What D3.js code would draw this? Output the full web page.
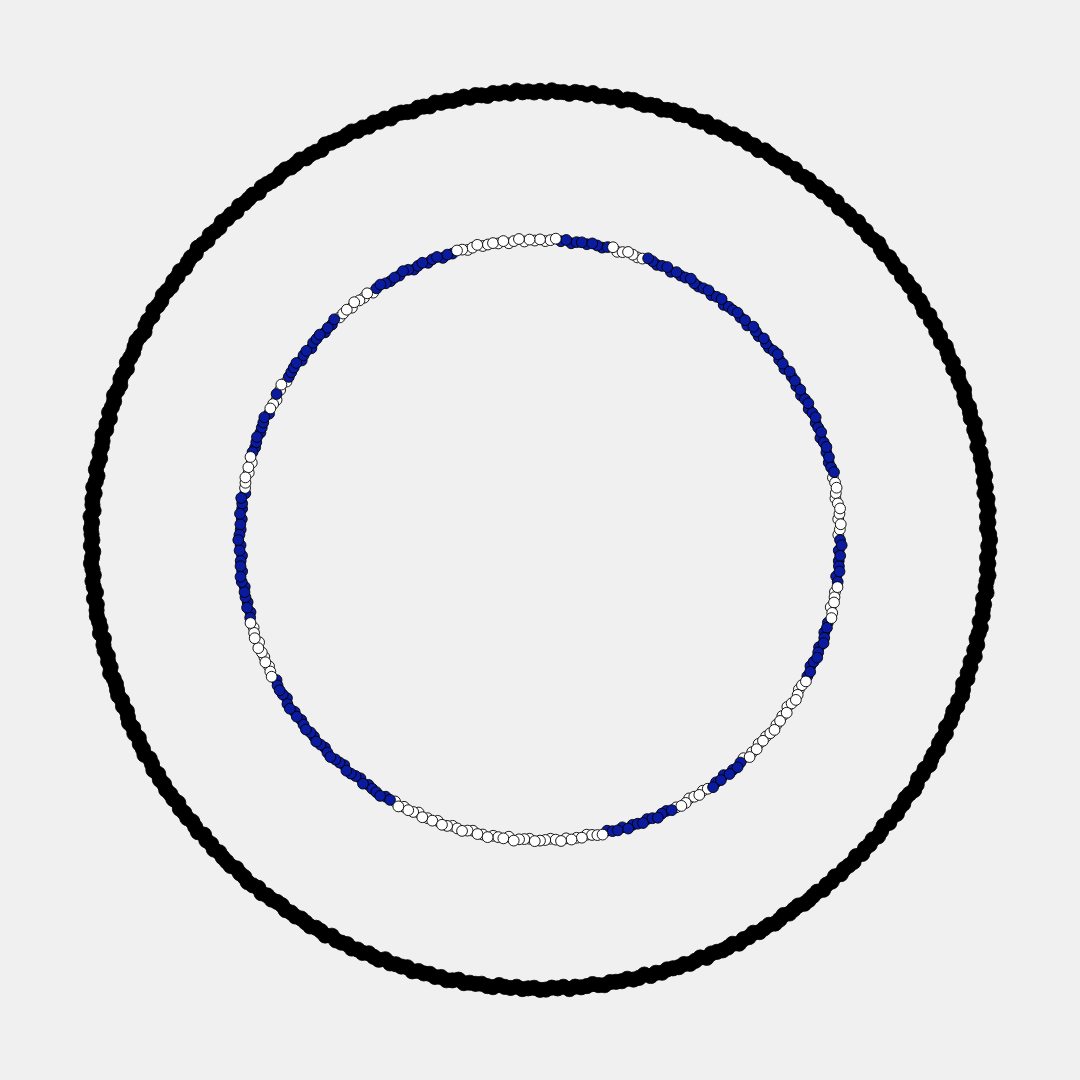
<!DOCTYPE html>
<html>
<head>
<meta charset="utf-8">
<script src="https://cdn.jsdelivr.net/npm/d3@7"></script>
<style>
html,body{margin:0;padding:0;background:#f0f0f0;}
svg{display:block;}
</style>
</head>
<body>
<svg id="chart" width="1080" height="1080"></svg>
<script>
// ---------------- DATA ----------------
// Outer ring: angle in degrees (clockwise from 12 o'clock), radius 1 + small radial noise
const outerRadiusValue = 1;
const outerAngles = [
0,0.75,1.5,2.25,3,3.75,4.5,5.25,6,6.75,7.5,8.25,
9,9.75,10.5,11.25,12,12.75,13.5,14.25,15,15.75,16.5,17.25,
18,18.75,19.5,20.25,21,21.75,22.5,23.25,24,24.75,25.5,26.25,
27,27.75,28.5,29.25,30,30.75,31.5,32.25,33,33.75,34.5,35.25,
36,36.75,37.5,38.25,39,39.75,40.5,41.25,42,42.75,43.5,44.25,
45,45.75,46.5,47.25,48,48.75,49.5,50.25,51,51.75,52.5,53.25,
54,54.75,55.5,56.25,57,57.75,58.5,59.25,60,60.75,61.5,62.25,
63,63.75,64.5,65.25,66,66.75,67.5,68.25,69,69.75,70.5,71.25,
72,72.75,73.5,74.25,75,75.75,76.5,77.25,78,78.75,79.5,80.25,
81,81.75,82.5,83.25,84,84.75,85.5,86.25,87,87.75,88.5,89.25,
90,90.75,91.5,92.25,93,93.75,94.5,95.25,96,96.75,97.5,98.25,
99,99.75,100.5,101.25,102,102.75,103.5,104.25,105,105.75,106.5,107.25,
108,108.75,109.5,110.25,111,111.75,112.5,113.25,114,114.75,115.5,116.25,
117,117.75,118.5,119.25,120,120.75,121.5,122.25,123,123.75,124.5,125.25,
126,126.75,127.5,128.25,129,129.75,130.5,131.25,132,132.75,133.5,134.25,
135,135.75,136.5,137.25,138,138.75,139.5,140.25,141,141.75,142.5,143.25,
144,144.75,145.5,146.25,147,147.75,148.5,149.25,150,150.75,151.5,152.25,
153,153.75,154.5,155.25,156,156.75,157.5,158.25,159,159.75,160.5,161.25,
162,162.75,163.5,164.25,165,165.75,166.5,167.25,168,168.75,169.5,170.25,
171,171.75,172.5,173.25,174,174.75,175.5,176.25,177,177.75,178.5,179.25,
180,180.75,181.5,182.25,183,183.75,184.5,185.25,186,186.75,187.5,188.25,
189,189.75,190.5,191.25,192,192.75,193.5,194.25,195,195.75,196.5,197.25,
198,198.75,199.5,200.25,201,201.75,202.5,203.25,204,204.75,205.5,206.25,
207,207.75,208.5,209.25,210,210.75,211.5,212.25,213,213.75,214.5,215.25,
216,216.75,217.5,218.25,219,219.75,220.5,221.25,222,222.75,223.5,224.25,
225,225.75,226.5,227.25,228,228.75,229.5,230.25,231,231.75,232.5,233.25,
234,234.75,235.5,236.25,237,237.75,238.5,239.25,240,240.75,241.5,242.25,
243,243.75,244.5,245.25,246,246.75,247.5,248.25,249,249.75,250.5,251.25,
252,252.75,253.5,254.25,255,255.75,256.5,257.25,258,258.75,259.5,260.25,
261,261.75,262.5,263.25,264,264.75,265.5,266.25,267,267.75,268.5,269.25,
270,270.75,271.5,272.25,273,273.75,274.5,275.25,276,276.75,277.5,278.25,
279,279.75,280.5,281.25,282,282.75,283.5,284.25,285,285.75,286.5,287.25,
288,288.75,289.5,290.25,291,291.75,292.5,293.25,294,294.75,295.5,296.25,
297,297.75,298.5,299.25,300,300.75,301.5,302.25,303,303.75,304.5,305.25,
306,306.75,307.5,308.25,309,309.75,310.5,311.25,312,312.75,313.5,314.25,
315,315.75,316.5,317.25,318,318.75,319.5,320.25,321,321.75,322.5,323.25,
324,324.75,325.5,326.25,327,327.75,328.5,329.25,330,330.75,331.5,332.25,
333,333.75,334.5,335.25,336,336.75,337.5,338.25,339,339.75,340.5,341.25,
342,342.75,343.5,344.25,345,345.75,346.5,347.25,348,348.75,349.5,350.25,
351,351.75,352.5,353.25,354,354.75,355.5,356.25,357,357.75,358.5,359.25
];
// radial noise, in 1/2000 of the outer radius
const outerJitter = [
3,-5,6,-1,0,-6,4,2,-3,7,-4,1,
-2,5,-7,3,6,-1,-5,2,4,-6,0,5,
-3,1,7,-4,-2,6,-6,3,0,-5,4,-1,
5,-3,2,-7,6,1,-4,0,3,-2,7,-5,
1,4,-6,2,-1,5,-3,6,-7,0,2,-4,
6,-2,3,-5,0,7,-1,-6,4,1,-3,5,
-4,2,-1,6,-5,3,0,-7,5,-2,4,-3,
2,-6,5,1,-3,4,-5,7,-1,0,6,-2,
-5,3,0,-4,7,-2,1,5,-6,3,-1,4,
0,6,-3,2,-7,4,-1,5,-4,1,-6,3,
7,-1,4,-5,2,-3,6,0,-2,5,-7,1,
-1,3,-6,4,0,-4,5,-2,7,-5,2,-3,
4,-7,1,6,-2,3,-5,0,2,-6,5,-1,
-3,5,-2,0,6,-4,1,-6,3,7,-1,-5,
2,-1,6,-3,4,-7,0,5,-4,2,-2,6,
-6,4,1,-2,5,-5,3,-1,7,-3,0,4,
5,-4,-1,3,-6,2,6,-3,0,4,-7,1,
-2,7,-5,1,3,-1,-4,6,-6,0,5,-3,
3,0,-3,5,-2,6,-7,2,4,-5,1,-1,
-4,6,2,-6,0,3,-2,7,-5,1,-3,5,
6,-3,0,4,-5,2,-1,-7,5,3,-4,0,
-1,5,-6,2,7,-2,4,-4,1,-3,6,-5,
0,-2,3,-7,5,1,-5,4,-1,6,-3,2,
4,-6,7,-1,-3,5,0,-4,2,-2,3,-6,
-5,1,-2,6,-4,3,7,-1,0,-6,4,2,
1,-4,5,-3,2,-7,6,0,-5,3,-1,4,
-6,2,0,5,-1,4,-3,6,-2,-5,7,1,
3,-5,4,-2,6,0,-6,2,-4,5,1,-3,
-1,7,-3,1,-5,3,2,-6,6,-2,0,5,
2,-3,6,-6,1,4,-4,0,5,-1,-7,3,
-4,0,3,-1,7,-5,2,4,-3,6,-2,-6,
5,1,-5,3,-2,0,6,-4,1,-7,4,-1,
-3,6,-1,-5,4,2,-6,5,0,-2,3,7,
1,-7,2,4,-4,6,-1,-3,5,0,-5,2,
-2,4,-6,0,3,-3,7,1,-5,5,-1,-4,
6,-1,2,-6,5,-2,0,3,-7,4,1,-3,
-5,3,5,-2,0,6,-4,1,-1,-6,7,2,
0,-4,1,6,-3,2,-5,4,-2,3,-6,5,
4,-2,-7,3,1,-5,6,-1,2,-4,0,6,
-3,5,0,-6,4,-1,3,-5,7,-2,1,-4
];

// Inner ring: angle in degrees, class (0 = white, 1 = blue), radius 0.669 + radial noise
const innerRadiusValue = 0.669;
const classNames = ["0", "1"];
const innerAngles = [
0,1,2,3,4,5,6,7,8,9,10,11,12,13,14,15,16,17,18,19,
20,21,22,23,24,25,26,27,28,29,30,31,32,33,34,35,36,37,38,39,
40,41,42,43,44,45,46,47,48,49,50,51,52,53,54,55,56,57,58,59,
60,61,62,63,64,65,66,67,68,69,70,71,72,73,74,75,76,77,78,79,
80,81,82,83,84,85,86,87,88,89,90,91,92,93,94,95,96,97,98,99,
100,101,102,103,104,105,106,107,108,109,110,111,112,113,114,115,116,117,118,119,
120,121,122,123,124,125,126,127,128,129,130,131,132,133,134,135,136,137,138,139,
140,141,142,143,144,145,146,147,148,149,150,151,152,153,154,155,156,157,158,159,
160,161,162,163,164,165,166,167,168,169,170,171,172,173,174,175,176,177,178,179,
180,181,182,183,184,185,186,187,188,189,190,191,192,193,194,195,196,197,198,199,
200,201,202,203,204,205,206,207,208,209,210,211,212,213,214,215,216,217,218,219,
220,221,222,223,224,225,226,227,228,229,230,231,232,233,234,235,236,237,238,239,
240,241,242,243,244,245,246,247,248,249,250,251,252,253,254,255,256,257,258,259,
260,261,262,263,264,265,266,267,268,269,270,271,272,273,274,275,276,277,278,279,
280,281,282,283,284,285,286,287,288,289,290,291,292,293,294,295,296,297,298,299,
300,301,302,303,304,305,306,307,308,309,310,311,312,313,314,315,316,317,318,319,
320,321,322,323,324,325,326,327,328,329,330,331,332,333,334,335,336,337,338,339,
340,341,342,343,344,345,346,347,348,349,350,351,352,353,354,355,356,357,358,359
];
const innerClass = [
0,0,0,0,1,1,1,1,1,1, 1,1,1,1,0,0,0,0,0,0,
0,1,1,1,1,1,1,1,1,1, 1,1,1,1,1,1,1,1,1,1,
1,1,1,1,1,1,1,1,1,1, 1,1,1,1,1,1,1,1,1,1,
1,1,1,1,1,1,1,1,1,1, 1,1,1,1,1,1,1,1,0,0,
0,0,0,0,0,0,0,0,0,0, 1,1,1,1,1,1,1,1,1,0,
0,0,0,0,0,0,1,1,1,1, 1,1,1,1,1,1,1,1,0,0,
0,0,0,0,0,0,0,0,0,0, 0,0,0,0,0,0,0,0,1,1,
1,1,1,1,1,1,0,0,0,0, 0,0,0,0,1,1,1,1,1,1,
1,1,1,1,1,1,1,1,0,0, 0,0,0,0,0,0,0,0,0,0,
0,0,0,0,0,0,0,0,0,0, 0,0,0,0,0,0,0,0,0,0,
0,0,0,0,0,0,0,0,0,0, 1,1,1,1,1,1,1,1,1,1,
1,1,1,1,1,1,1,1,1,1, 1,1,1,1,1,1,1,1,1,1,
1,1,1,0,0,0,0,0,0,0, 0,0,0,0,0,1,1,1,1,1,
1,1,1,1,1,1,1,1,1,1, 1,1,1,1,1,1,1,1,1,1,
0,0,0,0,0,0,0,1,1,1, 1,1,1,1,1,1,0,0,0,1,
0,0,0,1,1,1,1,1,1,1, 1,1,1,1,1,1,1,1,0,0,
0,0,0,0,0,0,0,1,1,1, 1,1,1,1,1,1,1,1,1,1,
1,1,1,1,0,0,0,0,0,0, 0,0,0,0,0,0,0,0,0,0
];
// radial noise, in 1/800 of the outer radius
const innerJitter = [
1,-2,0,3,-1,2,-3,0,1,-1,
2,0,-2,1,3,-3,-1,2,0,-2,
-1,3,1,-2,0,2,-3,1,-1,0,
3,-1,-2,0,2,-2,1,3,-3,0,
0,2,-1,1,-3,3,0,-2,2,-1,
-2,1,3,-1,0,-3,2,0,1,-2,
1,-3,0,2,-2,1,3,-1,0,2,
-3,0,2,-1,1,-2,0,3,-1,1,
2,-1,-3,0,3,1,-2,2,0,-3,
0,3,-2,1,-1,0,2,-3,1,2,
-1,0,1,-3,2,3,-1,0,-2,1,
3,-2,0,2,-1,-3,1,0,2,-1,
-2,1,3,0,-3,2,-1,1,0,3,
1,-1,0,-2,2,0,3,-3,-1,2,
0,2,-3,1,-1,3,0,-2,1,-1,
-3,1,2,0,1,-2,-1,3,0,-2,
2,0,-1,3,-2,1,0,-3,2,1,
-1,-3,1,0,2,-1,3,0,-2,0,
1,2,-2,-1,0,3,-3,1,0,-1,
3,0,1,-3,-1,2,0,-2,1,2,
-2,1,0,2,-3,0,1,-1,3,-2,
0,-1,3,1,0,-2,2,-3,-1,1,
2,-3,-1,0,3,1,-2,0,2,-1,
-1,2,0,-2,1,-1,3,2,-3,0,
1,0,-3,2,0,-2,1,-1,0,3,
-2,3,1,-1,2,0,-3,1,-2,0,
0,-2,2,3,-1,1,0,-3,1,-1,
3,1,-1,0,-2,2,-1,0,3,-3,
-1,0,2,-2,1,-3,2,1,-1,0,
2,-1,0,1,3,-2,0,-1,-3,2,
0,3,-2,-1,0,1,2,-3,0,1,
-3,1,1,2,-2,0,-1,3,-1,0,
1,-2,3,0,-1,2,-3,0,2,-1,
-2,0,-1,3,1,-3,0,2,-2,1,
2,-3,0,-1,2,1,-2,0,3,-1,
0,1,-1,2,-3,0,3,-2,1,-1
];

// ---------------- DRAWING ----------------
const W = 1080, H = 1080;
const cx = 540, cy = 540;
const classColors = {"0": "#ffffff", "1": "#0b1b9f"};

const svg = d3.select("#chart");
svg.append("rect").attr("width", W).attr("height", H).attr("fill", "#f0f0f0");

const angleScale = d3.scaleLinear().domain([0, 360]).range([0, 2 * Math.PI]);
const radiusScale = d3.scaleLinear().domain([0, 1]).range([0, 448.5]);

const g = svg.append("g").attr("transform", `translate(${cx},${cy})`);

const outerData = outerAngles.map((a, i) => ({a, r: outerRadiusValue + outerJitter[i] / 2000, j: outerJitter[i]}));
const innerData = innerAngles.map((a, i) => ({a, r: innerRadiusValue + innerJitter[i] / 800, j: innerJitter[i], c: classNames[innerClass[i]]}));

const pos = d => d3.pointRadial(angleScale(d.a), radiusScale(d.r));

g.append("g").selectAll("circle")
  .data(outerData)
  .join("circle")
  .attr("cx", d => pos(d)[0])
  .attr("cy", d => pos(d)[1])
  .attr("r", 7.6)
  .attr("fill", "#000")
  .attr("stroke", "#000")
  .attr("stroke-width", 0.8);

g.append("g").selectAll("circle")
  .data(innerData)
  .join("circle")
  .sort((p, q) => d3.ascending(p.j, q.j))
  .attr("cx", d => pos(d)[0])
  .attr("cy", d => pos(d)[1])
  .attr("r", 5.4)
  .attr("fill", d => classColors[d.c])
  .attr("stroke", "#000")
  .attr("stroke-width", 0.9);
</script>
</body>
</html>
